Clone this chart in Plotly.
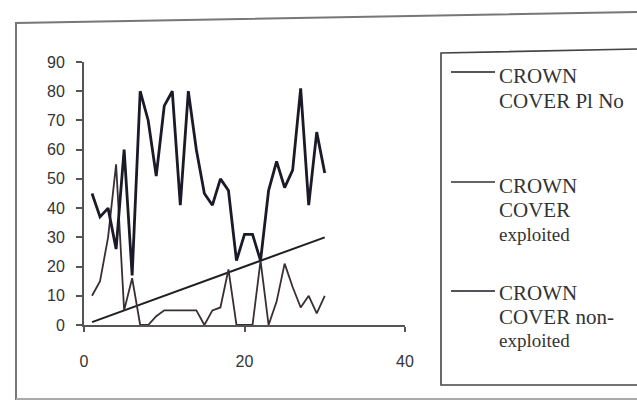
import plotly.graph_objects as go

# ---- data ----
plot_no = list(range(1, 31))
crown_cover_pl_no = list(range(1, 31))
crown_cover_exploited = [10, 15, 30, 55, 5, 16, 0, 0, 3, 5,
                         5, 5, 5, 5, 0, 5, 6, 19, 0, 0,
                         0, 22, 0, 8, 21, 13, 6, 10, 4, 10]
crown_cover_non_exploited = [45, 37, 40, 26, 60, 17, 80, 70, 51, 75,
                             80, 41, 80, 60, 45, 41, 50, 46, 22, 31,
                             31, 22, 46, 56, 47, 53, 81, 41, 66, 52]
x_ticks = [0, 20, 40]
y_ticks = [0, 10, 20, 30, 40, 50, 60, 70, 80, 90]
legend_lines = [["CROWN", "COVER Pl No"],
                ["CROWN", "COVER", "exploited"],
                ["CROWN", "COVER non-", "exploited"]]

# ---- layout geometry (pixels) ----
W_PX, H_PX = 637, 402
L, R, T, B = 84, 232, 62, 77
PW = W_PX - L - R
PH = H_PX - T - B


def px(xp):
    return (xp - L) / PW


def py(yp):
    return (H_PX - B - yp) / PH


fig = go.Figure()
fig.add_trace(go.Scatter(x=plot_no, y=crown_cover_pl_no, mode="lines",
                         name="CROWN COVER Pl No",
                         line=dict(color="#1e1e24", width=2.0)))
fig.add_trace(go.Scatter(x=plot_no, y=crown_cover_exploited, mode="lines",
                         name="CROWN COVER exploited",
                         line=dict(color="#3a2e34", width=1.8)))
fig.add_trace(go.Scatter(x=plot_no, y=crown_cover_non_exploited, mode="lines",
                         name="CROWN COVER non-exploited",
                         line=dict(color="#1a1a28", width=2.8)))

tick_font = dict(family="Liberation Sans, Arial, sans-serif", size=16, color="#333")
fig.update_xaxes(range=[0, 40], tickvals=x_ticks, ticktext=[str(v) for v in x_ticks],
                 showgrid=False, zeroline=False, showline=True, linecolor="#555",
                 linewidth=1.8, ticks="outside", ticklen=5, tickcolor="#555",
                 tickwidth=1.5, tickfont=tick_font, ticklabelstandoff=16)
fig.update_yaxes(range=[0, 90], tickvals=y_ticks, showgrid=False, zeroline=False,
                 showline=True, linecolor="#555", linewidth=1.8, ticks="outside",
                 ticklen=6, tickcolor="#555", tickwidth=1.5, tickfont=tick_font,
                 ticklabelstandoff=8)

shapes = []
# outer chart border (left, top, bottom)
shapes.append(dict(type="path", xref="paper", yref="paper",
                   path=f"M {px(16)},{py(400)} L {px(16)},{py(23)} L {px(640)},{py(12)}",
                   line=dict(color="#777", width=2)))
shapes.append(dict(type="line", xref="paper", yref="paper",
                   x0=px(16), x1=px(640), y0=py(399), y1=py(399),
                   line=dict(color="#aaa", width=2)))
# legend box
shapes.append(dict(type="path", xref="paper", yref="paper",
                   path=(f"M {px(640)},{py(385)} L {px(441)},{py(385)} "
                         f"L {px(441)},{py(53)} L {px(640)},{py(49)}"),
                   line=dict(color="#444", width=1.6)))

legend_sample_y = [72, 182, 291]
legend_text_y = [[76, 101], [186, 210, 234], [293, 317, 340]]
sample_colors = ["#1e1e24", "#3a2e34", "#1a1a28"]
annotations = []
for i, lines in enumerate(legend_lines):
    shapes.append(dict(type="line", xref="paper", yref="paper",
                       x0=px(451), x1=px(495), y0=py(legend_sample_y[i]),
                       y1=py(legend_sample_y[i]),
                       line=dict(color=sample_colors[i], width=1.5)))
    for j, txt in enumerate(lines):
        small = txt == "exploited"
        annotations.append(dict(xref="paper", yref="paper", x=px(497),
                                y=py(legend_text_y[i][j]), text=txt,
                                showarrow=False, xanchor="left", yanchor="middle",
                                font=dict(family="Liberation Serif, Times New Roman, serif",
                                          size=19 if small else 21, color="#333")))

fig.update_layout(width=W_PX, height=H_PX, margin=dict(l=L, r=R, t=T, b=B),
                  paper_bgcolor="white", plot_bgcolor="white", showlegend=False,
                  shapes=shapes, annotations=annotations)

fig.write_html("out.html")
